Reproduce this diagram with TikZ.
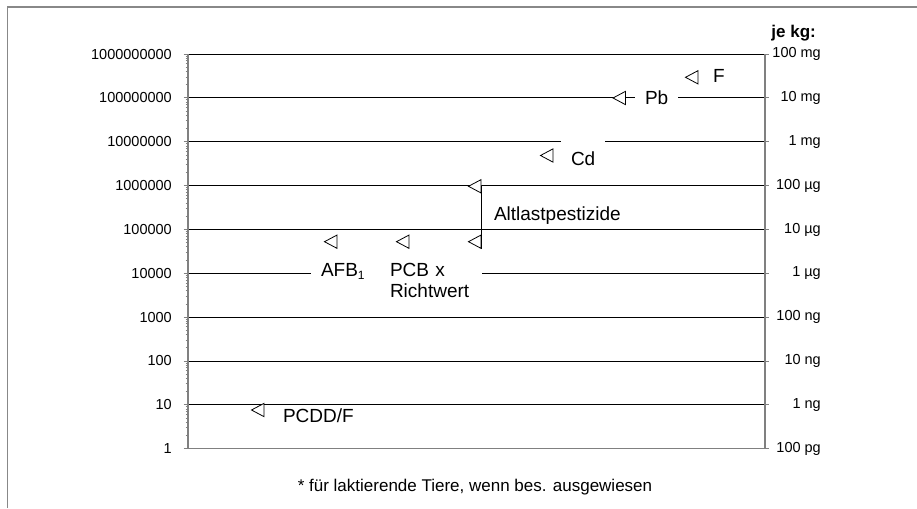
\documentclass[tikz,border=0pt]{standalone}
\usepackage{fontspec}
\setmainfont{Liberation Sans}
\usetikzlibrary{shapes.geometric}
\definecolor{axisgray}{HTML}{808080}
\definecolor{framegray}{HTML}{888888}
\begin{document}
\begin{tikzpicture}[x=1pt,y=-1pt,
  grid/.style={black, line width=0.9pt},
  axisline/.style={axisgray, line width=1.3pt},
  tickline/.style={axisgray, line width=0.9pt},
  ticklbl/.style={anchor=east, inner sep=0pt, font=\fontsize{14.5}{17}\selectfont},
  serieslbl/.style={anchor=text, inner sep=0pt, font=\fontsize{19}{21.7}\selectfont},
  cover/.style={fill=white, inner xsep=10pt, inner ysep=11pt},
  marker/.style={draw=black, fill=white, line width=0.8pt, isosceles triangle,
    isosceles triangle apex angle=56, shape border rotate=180, inner sep=0pt,
    minimum height=12.5pt, minimum width=12.5pt},
]
\useasboundingbox (0,0) rectangle (917,508);
% outer frame (cut at right and bottom)
\draw[framegray, line width=1.5pt] (7.5,508) -- (7.5,7) -- (917,7);

% gridlines
\foreach \k in {1,...,9}
  \draw[grid] (188,{448.7-43.85*\k}) -- (765,{448.7-43.85*\k});

% series labels (some with white boxes that break the gridlines)
\node[serieslbl] (F) at (713,83) {F};
\node[serieslbl, cover] (Pb) at (645,104) {Pb};
\node[serieslbl, cover] (Cd) at (571,165) {Cd};
\node[serieslbl] (Alt) at (494,220) {Altlastpestizide};
\node[serieslbl, cover, text width=50pt] (AFB) at (321,276) {AFB\raisebox{-3.5pt}{\fontsize{12}{12}\selectfont 1}};
\node[serieslbl, cover, text width=82pt, align=left] (PCB) at (390,276) {PCB x\\Richtwert};
\node[serieslbl] (PCDD) at (283,422.5) {PCDD/F};

% markers
\node[marker] (mF) at (694,77.3) {};
\node[marker] (mPb) at (621.5,98) {};
\node[marker] (mCd) at (549,155.5) {};
\node[marker] (mA1) at (477,186.3) {};
\node[marker] (mA2) at (477,241.7) {};
\node[marker] (mAFB) at (333,241.7) {};
\node[marker] (mPCB) at (405,241.7) {};
\node[marker] (mPCDD) at (260,410) {};
\coordinate (aEnd) at (483,249);
\draw[grid] (mA1.east) -- (mA1.east |- aEnd);

% minor ticks on left axis
\foreach \k in {0,...,8}
  \foreach \m in {2,...,9}
    \draw[tickline] (185.5,{448.7-43.85*(\k+log10(\m))}) -- (188,{448.7-43.85*(\k+log10(\m))});

% axes
\draw[axisline] (188,54.05) -- (188,448.7) -- (765,448.7) -- (765,54.05);

% axis labels and major ticks
\foreach \k/\l/\r in {0/1/100 pg, 1/10/1 ng, 2/100/10 ng, 3/1000/100 ng, 4/10000/1 µg,
    5/100000/10 µg, 6/1000000/100 µg, 7/10000000/1 mg, 8/100000000/10 mg, 9/1000000000/100 mg}{
  \draw[tickline] (183.5,{448.7-43.85*\k}) -- (188,{448.7-43.85*\k});
  \draw[tickline] (765,{448.7-43.85*\k}) -- (769,{448.7-43.85*\k});
  \node[ticklbl] (L\k) at (172,{448.7-43.85*\k}) {\l};
  \node[ticklbl] (R\k) at (821,{448.7-43.85*\k}) {\r};
}

\node[anchor=base east, inner sep=0pt, font=\bfseries\fontsize{17}{19}\selectfont] (unit) at (816,37.5) {je kg:};
\node[anchor=base, inner sep=0pt, font=\fontsize{17}{20}\selectfont] (note) at (475,491.5) {* für laktierende Tiere, wenn bes. ausgewiesen};
\end{tikzpicture}
\end{document}
